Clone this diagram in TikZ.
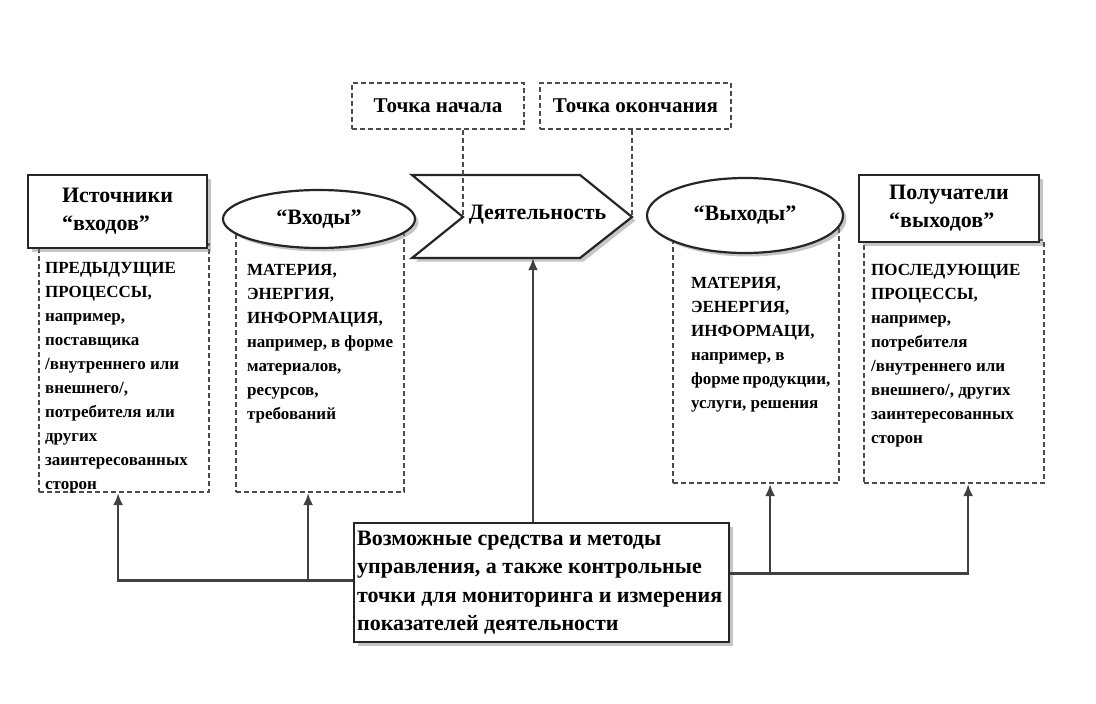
\documentclass[tikz,border=0pt]{standalone}
\usepackage{fontspec}
\setmainfont{Liberation Serif}
\usetikzlibrary{calc,arrows.meta,shadows,shapes.geometric}

\begin{document}
\begin{tikzpicture}[x=1pt,y=-1pt,
  hd/.style={font=\bfseries\fontsize{22}{28}\selectfont},
  shade/.style={drop shadow={shadow xshift=3.5pt,shadow yshift=-3.5pt,opacity=.45}},
  solidbox/.style={draw=black!85,line width=2.2pt,fill=white,hd,align=left,shade},
  oval/.style={ellipse,draw=black!85,line width=2.2pt,fill=white,hd,inner sep=0pt,shade},
  dashbox/.style={draw=black!70,dash pattern=on 5pt off 3pt,line width=2.2pt,fill=white,
    font=\bfseries\fontsize{17}{24}\selectfont,anchor=base west,inner ysep=0pt},
  pointbox/.style={draw=black!70,dash pattern=on 5pt off 3pt,line width=2.2pt,fill=white,
    font=\bfseries\fontsize{21}{24}\selectfont,minimum height=46pt},
  dashline/.style={draw=black!70,dash pattern=on 5pt off 3pt,line width=2.2pt},
  arr/.style={-{Latex[length=12pt,width=10pt]},line width=2.4pt,draw=black!75}]
\useasboundingbox (0,0) rectangle (1096,704);

% lists under the headers
\node[dashbox,inner xsep=6pt,text height=29pt,text depth=219pt] (srclist) at (38,273)
  {\parbox[t]{158pt}{\raggedright ПРЕДЫДУЩИЕ\\ПРОЦЕССЫ,\\например,\\поставщика\\/внутреннего~или\\внешнего/,\\потребителя~или\\других\\заинтересованных\\сторон}};
\node[dashbox,inner xsep=11pt,text height=56pt,text depth=217pt] (inlist) at (235,275)
  {\parbox[t]{146pt}{\raggedright МАТЕРИЯ,\\ЭНЕРГИЯ,\\ИНФОРМАЦИЯ,\\например,~в~форме\\материалов,\\ресурсов,\\требований}};
\node[dashbox,inner xsep=18pt,text height=73pt,text depth=195pt] (outlist) at (672,288)
  {\parbox[t]{130pt}{\raggedright МАТЕРИЯ,\\ЭЕНЕРГИЯ,\\ИНФОРМАЦИ,\\например,~в\\форме~продукции,\\услуги,~решения}};
\node[dashbox,inner xsep=7pt,text height=35pt,text depth=208pt] (rcvlist) at (863,275)
  {\parbox[t]{166pt}{\raggedright ПОСЛЕДУЮЩИЕ\\ПРОЦЕССЫ,\\например,\\потребителя\\/внутреннего~или\\внешнего/,~других\\заинтересованных\\сторон}};

% headers
\node[solidbox,minimum width=179pt,minimum height=73pt] (src) at (117.5,211.5) {Источники\\“входов”};
\node[oval,minimum width=192pt,minimum height=58pt] (inell) at (319,219) {“Входы”};
\node[oval,minimum width=196pt,minimum height=75pt] (outell) at (745,215.5) {“Выходы”};
\node[solidbox,minimum width=180pt,minimum height=67pt] (rcv) at (949,208.5) {Получатели\\“выходов”};

% activity arrow shape
\draw[draw=black!85,line width=2.2pt,fill=white,shade,line join=miter]
  (412,175) -- (580,175) -- (632,217) coordinate (tip) -- (580,258) -- (412,258)
  -- (463,217) coordinate (notch) -- cycle;
\coordinate (actbase) at (533,258);
\node[font=\bfseries\fontsize{22}{26}\selectfont] (act) at (537.5,215) {Деятельность};

\node[pointbox,minimum width=172pt] (start) at (438,106) {Точка начала};
\node[pointbox,minimum width=191pt] (stop) at (635.5,106) {Точка окончания};
\draw[dashline] (notch |- start.south) -- (notch);
\draw[dashline] (tip |- stop.south) -- (tip);

% control box
\node[draw=black!85,line width=2.2pt,fill=white,shade,anchor=base west,inner xsep=3pt,inner ysep=0pt,
  text height=22pt,text depth=97pt,font=\bfseries\fontsize{22}{28.5}\selectfont] (ctrl) at (353,545)
  {\parbox[t]{369pt}{\raggedright Возможные средства и методы\\управления,~а~также~контрольные\\точки~для~мониторинга~и~измерения\\показателей деятельности}};

\draw[arr] (actbase |- ctrl.north) -- (actbase);
\draw[arr] ([yshift=2pt]ctrl.west) -| ([xshift=-6pt]srclist.south);
\draw[arr] ([yshift=2pt]ctrl.west) -| ([xshift=-12pt]inlist.south);
\draw[arr] ([yshift=9pt]ctrl.east) -| ([xshift=14pt]outlist.south);
\draw[arr] ([yshift=9pt]ctrl.east) -| ([xshift=14pt]rcvlist.south);
\end{tikzpicture}
\end{document}
